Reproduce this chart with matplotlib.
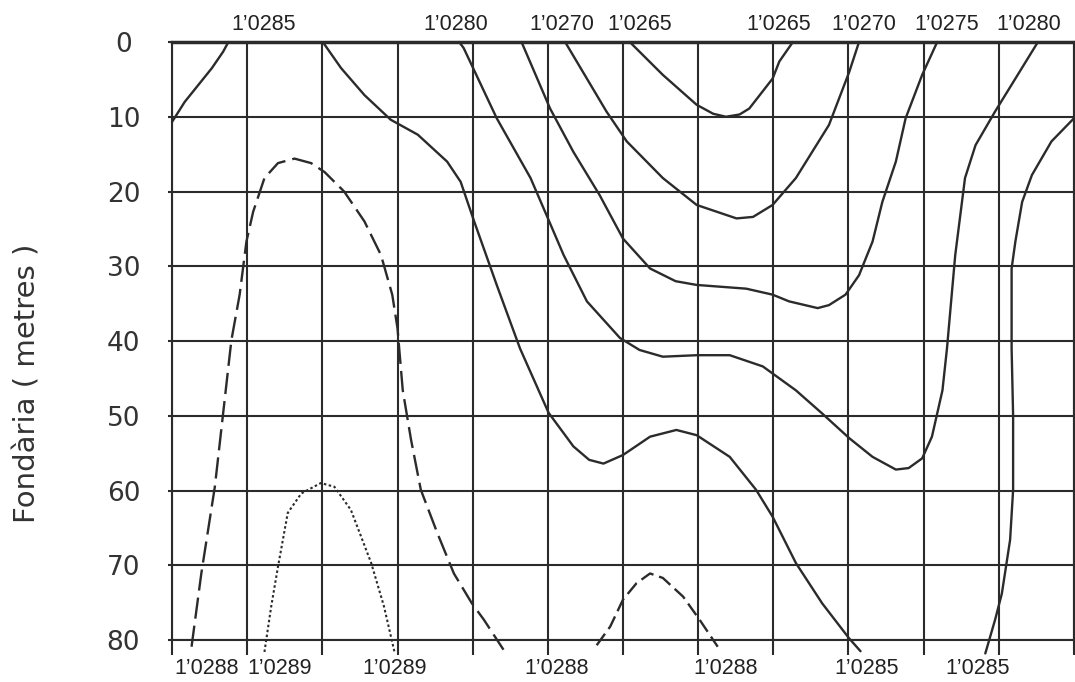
import matplotlib
matplotlib.use("Agg")
import matplotlib.pyplot as plt

depth_ticks = [0, 10, 20, 30, 40, 50, 60, 70, 80]
n_cols = 12

# solid isopycnals: (x, depth) pairs
curve_a_x = [0, 0.17, 0.35, 0.53, 0.68, 0.75]
curve_a_d = [10.7, 8, 5.75, 3.5, 1.3, 0]

curve_b_x = [2.02, 2.25, 2.56, 2.91, 3.27, 3.66, 3.84, 4.02, 4.32, 4.63, 5.01, 5.34, 5.55, 5.74,
             6.0, 6.36, 6.71, 6.98, 7.42, 7.77, 7.99, 8.30, 8.65, 9.01, 9.16]
curve_b_d = [0.2, 3.5, 7.1, 10.4, 12.4, 16, 18.7, 24, 32.5, 41, 49.6, 54.1, 55.9, 56.4,
             55.25, 52.8, 51.9, 52.6, 55.5, 59.9, 63.5, 69.7, 75.1, 79.8, 81.5]

curve_c_x = [3.82, 3.88, 4.32, 4.77, 4.98, 5.21, 5.52, 5.96, 6.22, 6.53, 6.98, 7.42, 7.86,
             8.30, 8.65, 9.01, 9.32, 9.63, 9.80, 9.98, 10.11, 10.25, 10.31, 10.42, 10.55,
             10.69, 10.95, 11.22, 11.52]
curve_c_d = [0, 0.8, 10.2, 18.2, 23.1, 28.5, 34.7, 39.6, 41.2, 42.1, 41.9, 41.9, 43.4,
             46.6, 49.7, 53, 55.5, 57.2, 57, 55.7, 52.8, 46.6, 41, 28.5, 18.2,
             13.8, 9.3, 4.9, 0]

curve_d_x = [4.65, 5.03, 5.34, 5.69, 6.0, 6.36, 6.7, 6.98, 7.64, 7.99, 8.21, 8.59, 8.74,
             8.96, 9.14, 9.32, 9.45, 9.63, 9.76, 9.98, 10.18]
curve_d_d = [0, 8.9, 14.7, 20.5, 26.3, 30.3, 32, 32.5, 33, 33.8, 34.7, 35.6, 35.2,
             33.8, 31.2, 26.7, 21.4, 16, 10.2, 4.4, 0]

curve_e_x = [5.23, 5.78, 6.05, 6.53, 6.98, 7.51, 7.73, 7.99, 8.30, 8.74, 9.01, 9.14]
curve_e_d = [0, 9.3, 13.3, 18.2, 21.8, 23.6, 23.4, 21.8, 18.2, 11.1, 4, 0]

curve_f_x = [6.09, 6.53, 6.98, 7.2, 7.37, 7.55, 7.68, 7.99, 8.08, 8.26]
curve_f_d = [0, 4.4, 8.4, 9.6, 10, 9.7, 8.9, 4.9, 2.6, 0]

curve_k_x = [12, 11.70, 11.44, 11.31, 11.22, 11.17, 11.17, 11.19, 11.19, 11.15, 11.04, 10.95, 10.82]
curve_k_d = [10.2, 13.3, 17.8, 21.4, 26.7, 30.3, 41, 50, 59.9, 66.6, 73.8, 77.3, 81.8]

# dashed / dotted cells near the bottom
curve_l_x = [0.26, 0.39, 0.57, 0.68, 0.79, 0.90, 0.99, 1.08, 1.23, 1.41, 1.63, 1.85, 2.03,
             2.29, 2.56, 2.78, 2.93, 3.0, 3.07, 3.18, 3.31, 3.53, 3.75, 3.99, 4.15, 4.41]
curve_l_d = [80.9, 71.1, 59.5, 49.7, 39.9, 33.8, 26.7, 22.7, 18.2, 16.2, 15.6, 16.2, 17.4,
             20, 24, 28.5, 33.8, 38.3, 46.6, 53.2, 59.9, 65.7, 71.1, 75.1, 77.3, 81.3]

curve_m_x = [1.23, 1.32, 1.41, 1.54, 1.72, 1.98, 2.16, 2.38, 2.65, 2.82, 2.96]
curve_m_d = [81.6, 75.5, 70.2, 63, 60.4, 59, 59.5, 62.6, 69.7, 75.5, 81.6]

curve_n_x = [5.65, 5.83, 6.0, 6.18, 6.36, 6.53, 6.80, 7.02, 7.26]
curve_n_d = [80.7, 78.2, 74.6, 72.4, 71.1, 71.7, 74.2, 77.3, 80.9]

# contour labels along top and bottom edges
top_label_x = [1.22, 3.78, 5.18, 6.22, 8.07, 9.21, 10.31, 11.40]
top_labels = ["1’0285", "1’0280", "1’0270", "1’0265", "1’0265", "1’0270", "1’0275", "1’0280"]
bottom_label_x = [0.46, 1.43, 2.96, 5.12, 7.37, 9.24, 10.72]
bottom_labels = ["1’0288", "1’0289", "1’0289", "1’0288", "1’0288", "1’0285", "1’0285"]

ink = "#2b2b2b"
label_font = ["Liberation Sans", "DejaVu Sans"]

fig = plt.figure(figsize=(10.75, 6.82), dpi=100)
ax = fig.add_axes([172 / 1075, 1 - 640 / 682, (1074 - 172) / 1075, (640 - 42) / 682])

ax.set_xlim(0, n_cols)
ax.set_ylim(80, 0)

# grid
ax.set_xticks(range(n_cols + 1))
ax.set_yticks(depth_ticks)
ax.grid(True, color=ink, linewidth=1.5)
ax.tick_params(axis="x", direction="out", length=11, width=1.5, color=ink,
               labelbottom=False)
ax.tick_params(axis="y", direction="out", length=3, width=1.5, color=ink,
               labelsize=19, labelcolor="#333333", pad=32)
for lab in ax.get_yticklabels():
    lab.set_horizontalalignment("center")
for side in ["left", "bottom", "right"]:
    ax.spines[side].set_color(ink)
    ax.spines[side].set_linewidth(1.5)
ax.spines["top"].set_color(ink)
ax.spines["top"].set_linewidth(2.5)

solid = [(curve_a_x, curve_a_d), (curve_b_x, curve_b_d), (curve_c_x, curve_c_d),
         (curve_d_x, curve_d_d), (curve_e_x, curve_e_d), (curve_f_x, curve_f_d),
         (curve_k_x, curve_k_d)]
for xs, ds in solid:
    ax.plot(xs, ds, color=ink, linewidth=1.7, clip_on=False,
            solid_joinstyle="round", solid_capstyle="round")

ax.plot(curve_l_x, curve_l_d, color=ink, linewidth=1.7, clip_on=False,
        dashes=(9, 3))
ax.plot(curve_m_x, curve_m_d, color=ink, linewidth=1.5, clip_on=False,
        dashes=(1.2, 1.2))
ax.plot(curve_n_x, curve_n_d, color=ink, linewidth=1.7, clip_on=False,
        dashes=(6, 2.5))

for x, t in zip(top_label_x, top_labels):
    ax.text(x, 1 + 18 / 598, t, transform=ax.get_xaxis_transform(), ha="center",
            va="center", fontsize=15.5, color="#222222", family=label_font)
for x, t in zip(bottom_label_x, bottom_labels):
    ax.text(x, -28 / 598, t, transform=ax.get_xaxis_transform(), ha="center",
            va="center", fontsize=15.5, color="#222222", family=label_font)

fig.text(28 / 1075, 1 - 383 / 682, "Fondària ( metres )", rotation=90, ha="center",
         va="center", fontsize=21, color="#333333")

fig.savefig("out.png", dpi=100, facecolor="white")
